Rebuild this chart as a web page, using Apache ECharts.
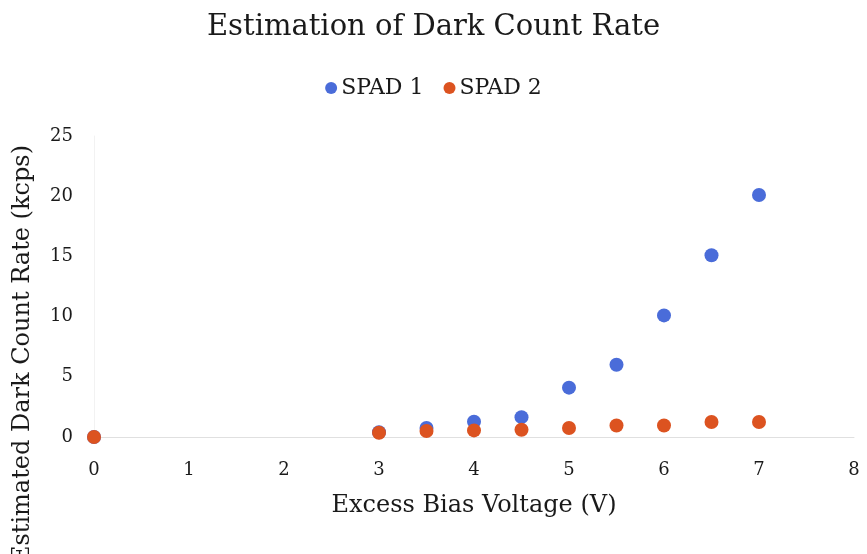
<!DOCTYPE html>
<html>
<head>
<meta charset="utf-8">
<script src="https://cdn.jsdelivr.net/npm/echarts@6/dist/echarts.min.js"></script>
<style>
  html, body { margin: 0; padding: 0; background: #fff; }
  #main { width: 867px; height: 554px; }
</style>
</head>
<body>
<div id="main"></div>
<script>
// bias voltage (V) for each measurement
var biasVoltage = [0, 3, 3.5, 4, 4.5, 5, 5.5, 6, 6.5, 7];
// estimated dark count rate (kcps)
var spad1 = [0, 0.4, 0.75, 1.27, 1.65, 4.1, 6.0, 10.1, 15.1, 20.1];
var spad2 = [0, 0.35, 0.5, 0.55, 0.6, 0.75, 0.95, 0.95, 1.25, 1.25];

var seriesNames = ['SPAD 1', 'SPAD 2'];
var colors = ['#4a6cd9', '#dc5320'];

function pairs(xs, ys) {
  return xs.map(function (x, i) { return [x, ys[i]]; });
}

var fontFam = '"DejaVu Serif", "Liberation Serif", serif';

var myChart = echarts.init(document.getElementById('main'));
var option = {
  animation: false,
  color: colors,
  textStyle: { fontFamily: fontFam },
  title: {
    text: 'Estimation of Dark Count Rate',
    left: 'center',
    top: 8,
    textStyle: { fontFamily: fontFam, fontSize: 29, fontWeight: 'normal', color: '#1a1a1a' }
  },
  legend: {
    data: seriesNames,
    top: 72,
    left: 'center',
    itemWidth: 12,
    itemHeight: 12,
    itemGap: 20,
    icon: 'circle',
    textStyle: { fontFamily: fontFam, fontSize: 22, color: '#1a1a1a', padding: [0, 0, 0, -1] }
  },
  grid: { left: 94, right: 13, top: 136, bottom: 117 },
  xAxis: {
    type: 'value',
    min: 0,
    max: 8,
    interval: 1,
    name: 'Excess Bias Voltage (V)',
    nameLocation: 'middle',
    nameGap: 57,
    nameTextStyle: { fontFamily: fontFam, fontSize: 24, color: '#1a1a1a' },
    axisLine: { show: true, lineStyle: { color: '#e0e0e0' } },
    axisTick: { show: false },
    splitLine: { show: false },
    axisLabel: { fontFamily: fontFam, fontSize: 18, color: '#1a1a1a', margin: 24 }
  },
  yAxis: {
    type: 'value',
    min: 0,
    max: 25,
    interval: 5,
    axisLine: { show: true, lineStyle: { color: '#f2f2f2' } },
    axisTick: { show: false },
    splitLine: { show: false },
    axisLabel: { fontFamily: fontFam, fontSize: 18, color: '#1a1a1a', margin: 21 }
  },
  graphic: [{
    type: 'text',
    x: 23,
    y: 145,
    rotation: Math.PI / 2,
    style: {
      text: 'Estimated Dark Count Rate (kcps)',
      font: '24px ' + fontFam,
      fill: '#1a1a1a',
      textAlign: 'right',
      textVerticalAlign: 'middle'
    }
  }],
  series: [
    {
      name: seriesNames[0],
      type: 'scatter',
      symbolSize: 14,
      itemStyle: { opacity: 1 },
      data: pairs(biasVoltage, spad1)
    },
    {
      name: seriesNames[1],
      type: 'scatter',
      symbolSize: 14,
      itemStyle: { opacity: 1 },
      data: pairs(biasVoltage, spad2)
    }
  ]
};
myChart.setOption(option);
</script>
</body>
</html>
